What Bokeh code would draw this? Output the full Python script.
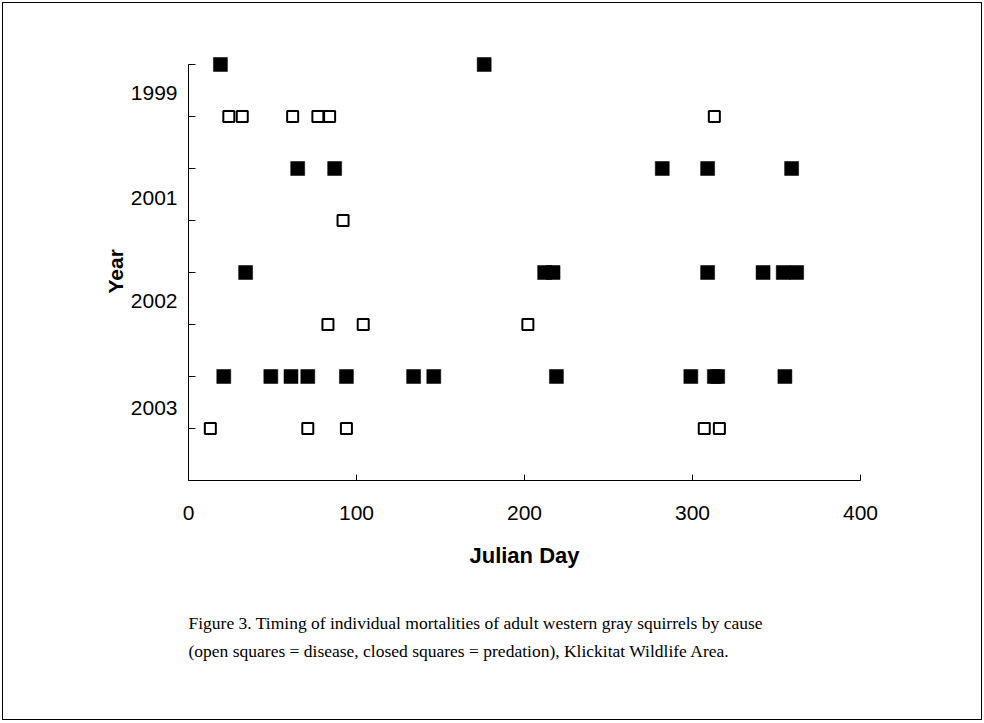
from bokeh.plotting import figure
from bokeh.models import Range1d, FixedTicker, ColumnDataSource, Title
from bokeh.layouts import column
from bokeh.embed import file_html
from bokeh.resources import INLINE

# ---- data (Julian day of each mortality) ----
years = ["1999", "2001", "2002", "2003"]
predation_1999 = [19, 176]
disease_1999 = [24, 32, 62, 77, 84, 313]
predation_2001 = [65, 87, 282, 309, 359]
disease_2001 = [92]
predation_2002 = [34, 212, 217, 309, 342, 354, 362]
disease_2002 = [83, 104, 202]
predation_2003 = [21, 49, 61, 71, 94, 134, 146, 219, 299, 313, 315, 355]
disease_2003 = [13, 71, 94, 307, 316]

# row position of each series on the y scale
row_predation = [8, 6, 4, 2]
row_disease = [7, 5, 3, 1]
row_ticks = [1, 2, 3, 4, 5, 6, 7, 8]
year_label_pos = [7.46, 5.44, 3.46, 1.40]
x_ticks = [0, 100, 200, 300, 400]

caption1 = "Figure 3.  Timing of individual mortalities of adult western gray squirrels by cause"
caption2 = "(open squares = disease, closed squares = predation), Klickitat Wildlife Area."

pred_lists = [predation_1999, predation_2001, predation_2002, predation_2003]
dis_lists = [disease_1999, disease_2001, disease_2002, disease_2003]

px, py = [], []
for days, r in zip(pred_lists, row_predation):
    px += days
    py += [r] * len(days)
dx, dy = [], []
for days, r in zip(dis_lists, row_disease):
    dx += days
    dy += [r] * len(days)

src_pred = ColumnDataSource(dict(x=px, y=py))
src_dis = ColumnDataSource(dict(x=dx, y=dy))

p = figure(width=978, height=716, x_range=Range1d(0, 400), y_range=Range1d(0, 432 / 52),
           output_backend="svg", toolbar_location=None,
           min_border_left=185, min_border_right=121, min_border_top=45,
           min_border_bottom=239)
p.outline_line_color = None
p.xgrid.visible = False
p.ygrid.visible = False
p.background_fill_color = "white"
p.border_fill_color = "white"

p.scatter("x", "y", source=src_pred, marker="square", size=14,
          fill_color="black", line_color="black", line_width=0.5)
p.scatter("x", "y", source=src_dis, marker="square", size=11,
          fill_color="white", line_color="black", line_width=2)

FONT = "Liberation Sans"

xa = p.xaxis[0]
xa.ticker = FixedTicker(ticks=x_ticks, minor_ticks=[])
xa.major_tick_in = 6
xa.major_tick_out = 0
xa.minor_tick_line_color = None
xa.axis_line_color = "black"
xa.axis_line_width = 1
xa.major_tick_line_color = "black"
xa.major_label_standoff = 25
xa.major_label_text_font = FONT
xa.major_label_text_font_size = "21px"
xa.major_label_text_color = "black"
xa.axis_label = "Julian Day"
xa.axis_label_text_font = FONT
xa.axis_label_text_font_style = "bold"
xa.axis_label_text_font_size = "22px"
xa.axis_label_text_color = "black"
xa.axis_label_standoff = 20

ya = p.yaxis[0]
ya.ticker = FixedTicker(ticks=year_label_pos, minor_ticks=row_ticks)
ya.major_label_overrides = {pos: yr for pos, yr in zip(year_label_pos, years)}
ya.bounds = (0, 8)
ya.major_tick_line_color = None
ya.major_tick_in = 0
ya.major_tick_out = 0
ya.minor_tick_line_color = "black"
ya.minor_tick_in = 7
ya.minor_tick_out = 0
ya.minor_tick_line_width = 1
ya.axis_line_color = "black"
ya.axis_line_width = 1
ya.major_label_standoff = 11
ya.major_label_text_font = FONT
ya.major_label_text_font_size = "21px"
ya.major_label_text_color = "black"

ytitle = Title(text="Year", align="left", text_font=FONT, text_font_size="21px",
               text_font_style="bold", text_color="black", standoff=2, offset=187)
p.add_layout(ytitle, "left")

cap = Title(text=caption1 + "\n" + caption2, align="left", text_font="Liberation Serif",
            text_font_size="17.5px", text_font_style="normal", text_color="black",
            text_line_height=1.4, standoff=80)
p.add_layout(cap, "below")

layout = column(p, margin=(2, 0, 0, 2),
                styles={"border": "1px solid black", "background-color": "white"})

open("out.html", "w").write(file_html(layout, INLINE))
